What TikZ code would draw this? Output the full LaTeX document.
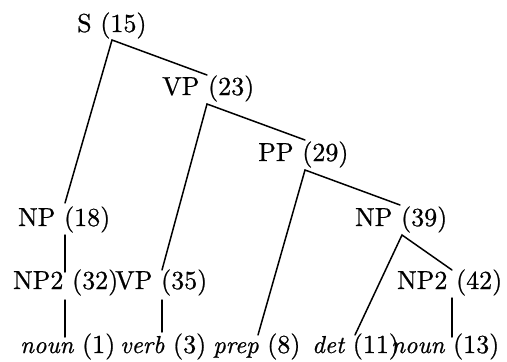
\documentclass[tikz,border=0pt]{standalone}
\usepackage{fontspec}
% keep the 10pt design size of Latin Modern at every size, slightly heavier strokes
\setmainfont{lmroman10-regular.otf}[ItalicFont=lmroman10-italic.otf,FakeBold=0.8]
\begin{document}
\begin{tikzpicture}[x=1pt,y=-1pt,
  lbl/.style={anchor=base west,inner sep=0pt,font=\fontsize{26}{30}\selectfont},
  edge/.style={line width=1.5pt,line cap=round}]
\newcommand{\wrd}[1]{{\fontsize{24.5}{28}\selectfont\itshape #1}}
\useasboundingbox (0,0) rectangle (507,362);

% phrase labels
\node[lbl] (s)    at (77,32)   {S (15)};
\node[lbl] (vp1)  at (162,95)  {VP (23)};
\node[lbl] (pp)   at (258,161) {PP (29)};
\node[lbl] (np1)  at (18,226)  {NP (18)};
\node[lbl] (np3)  at (355,226) {NP (39)};
\node[lbl] (np2a) at (13,289)  {NP2 (32)};
\node[lbl] (vp2)  at (115,289) {VP (35)};
\node[lbl] (np2b) at (397,289) {NP2 (42)};

% word leaves
\node[lbl] (w1) at (20,353)  {\wrd{noun} (1)};
\node[lbl] (w2) at (120,353) {\wrd{verb} (3)};
\node[lbl] (w3) at (213,353) {\wrd{prep} (8)};
\node[lbl] (w4) at (312,353) {\wrd{det} (11)};
\node[lbl] (w5) at (391,353) {\wrd{noun} (13)};

% attachment points below (B) and above (T) each label
\coordinate (sB)    at (112,40);
\coordinate (vp1T)  at (207,75);
\coordinate (vp1B)  at (207,104);
\coordinate (ppT)   at (305,140);
\coordinate (ppB)   at (305,170);
\coordinate (np1T)  at (65,203);
\coordinate (np1B)  at (65,235);
\coordinate (np3T)  at (400,205);
\coordinate (np3B)  at (402,235);
\coordinate (np2aT) at (65,272);
\coordinate (np2aB) at (65,300);
\coordinate (vp2T)  at (162,270);
\coordinate (vp2B)  at (162,300);
\coordinate (np2bT) at (452,270);
\coordinate (np2bB) at (452,298);
\coordinate (w1T)   at (65,337);
\coordinate (w2T)   at (162,332);
\coordinate (w3T)   at (258,335);
\coordinate (w4T)   at (355,335);
\coordinate (w5T)   at (452,337);

% tree edges
\draw[edge] (np1T) -- (sB) -- (vp1T);
\draw[edge] (vp2T) -- (vp1B) -- (ppT);
\draw[edge] (w3T) -- (ppB) -- (np3T);
\draw[edge] (w4T) -- (np3B) -- (np2bT);
\draw[edge] (np1B) -- (np2aT);
\draw[edge] (np2aB) -- (w1T);
\draw[edge] (vp2B) -- (w2T);
\draw[edge] (np2bB) -- (w5T);
\end{tikzpicture}
\end{document}
